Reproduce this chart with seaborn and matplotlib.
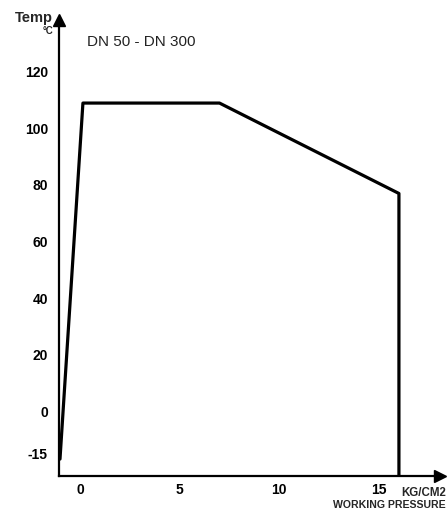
import matplotlib
matplotlib.use("Agg")
import matplotlib.pyplot as plt
import seaborn as sns
import pandas as pd

# pressure/temperature envelope
pressure = [-1.0, 0.15, 7.0, 16.0, 16.0]
temp = [-17, 109, 109, 77, -23]
y_ticks = [-15, 0, 20, 40, 60, 80, 100, 120]
x_ticks = [0, 5, 10, 15]

df = pd.DataFrame({"pressure": pressure, "temp": temp})

sns.set_style("white")
plt.rcParams["font.family"] = ["Liberation Sans", "DejaVu Sans"]

fig = plt.figure(figsize=(4.48, 5.12), dpi=100)
ax = fig.add_axes([59 / 448, 1 - 476 / 512, 381 / 448, 456 / 512])

sns.lineplot(data=df, x="pressure", y="temp", sort=False, estimator=None,
             color="black", linewidth=2.3, ax=ax)

ax.set_xlim(-1.05, 18.06)
ax.set_ylim(-23.0, 138.4)
ax.set_xticks(x_ticks)
ax.set_yticks(y_ticks)
ax.set_xticklabels([str(v) for v in x_ticks], fontsize=10, fontweight="bold")
ax.set_yticklabels([str(v) for v in y_ticks], fontsize=10, fontweight="bold")
ax.tick_params(axis="both", direction="in", length=7, width=1.5, colors="black")
ax.tick_params(axis="y", pad=8)
ax.tick_params(axis="x", pad=5)

for s in ["top", "right"]:
    ax.spines[s].set_visible(False)
for s in ["left", "bottom"]:
    ax.spines[s].set_linewidth(1.6)
    ax.spines[s].set_color("black")

# arrow heads on the axes
ax.plot(1, 0, ">", color="black", markersize=8, transform=ax.transAxes, clip_on=False)
ax.plot(0, 1, "^", color="black", markersize=8, transform=ax.transAxes, clip_on=False)

ax.set_xlabel("")
ax.set_ylabel("")

fig.text(53 / 448, 1 - 18 / 512, "Temp", fontsize=10.5, fontweight="bold",
         ha="right", va="center")
fig.text(53 / 448, 1 - 31 / 512, "°C", fontsize=7, fontweight="bold",
         ha="right", va="center")
fig.text(87 / 448, 1 - 42 / 512, "DN 50 - DN 300", fontsize=11,
         color="#222222", ha="left", va="center")
fig.text(446 / 448, 1 - 493 / 512, "KG/CM2", fontsize=8.3, fontweight="bold",
         ha="right", va="center")
fig.text(446 / 448, 1 - 505 / 512, "WORKING PRESSURE", fontsize=7.6, fontweight="bold",
         ha="right", va="center")

fig.savefig("out.png", dpi=100)
